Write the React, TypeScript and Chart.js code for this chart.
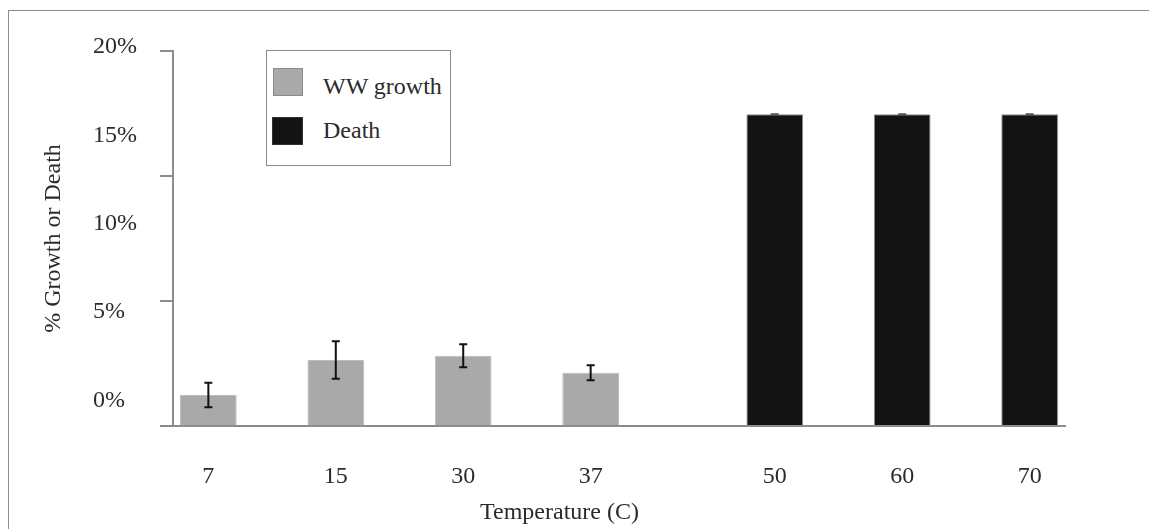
import React, { useEffect, useRef } from 'react';
import { Chart, registerables } from 'chart.js';

Chart.register(...registerables);

// ---------- data ----------
const temperatures = ['7', '15', '30', '37', '50', '60', '70'];
const growthLabel = 'WW growth';
const deathLabel = 'Death';
const growthValues = [1.24, 2.64, 2.81, 2.13, null, null, null];
const growthErrors = [0.49, 0.75, 0.46, 0.3, null, null, null];
const deathValues = [null, null, null, null, 12.47, 12.47, 12.47];
const deathErrors = [null, null, null, null, 0, 0, 0];
const percentTickValues = [0, 5, 10, 15, 20];
const percentTickLabels = ['0%', '5%', '10%', '15%', '20%'];
const yTitle = '% Growth or Death';
const xTitle = 'Temperature (C)';

// ---------- style ----------
const growthColor = '#a9a9a9';
const growthBorder = '#bdbdbd';
const deathColor = '#131313';
const deathBorder = '#8f8f8f';
const axisColor = '#8c8c8c';
const textColor = '#2b2b2b';
const FONT_FAMILY = "'Liberation Serif', 'Times New Roman', serif";
const font = { family: FONT_FAMILY, size: 24, weight: 'normal' as const };
const CAT_PCT = 0.89;

const errorBarPlugin = {
  id: 'errorBars',
  afterDatasetsDraw(chart: any) {
    const ctx = chart.ctx;
    const yScale = chart.scales.y;
    chart.data.datasets.forEach((ds: any, di: number) => {
      const errs = ds.errors;
      if (!errs) return;
      const meta = chart.getDatasetMeta(di);
      meta.data.forEach((bar: any, i: number) => {
        const v = ds.data[i];
        const e = errs[i];
        if (v == null || e == null) return;
        const x = bar.x;
        const yTop = yScale.getPixelForValue(v + e);
        const yBot = yScale.getPixelForValue(v - e);
        ctx.save();
        ctx.strokeStyle = e === 0 ? '#555555' : '#111111';
        ctx.lineWidth = 2;
        ctx.beginPath();
        ctx.moveTo(x, yTop);
        ctx.lineTo(x, yBot);
        ctx.moveTo(x - 4, yTop);
        ctx.lineTo(x + 4, yTop);
        ctx.moveTo(x - 4, yBot);
        ctx.lineTo(x + 4, yBot);
        ctx.stroke();
        ctx.restore();
      });
    });
  },
};

const legendItems = [
  { label: growthLabel, fill: growthColor, border: '#8a8a8a' },
  { label: deathLabel, fill: deathColor, border: '#333333' },
];

export default function App() {
  const canvasRef = useRef<HTMLCanvasElement | null>(null);

  useEffect(() => {
    if (!canvasRef.current) return;
    Chart.defaults.font.family = FONT_FAMILY;
    const chart = new Chart(canvasRef.current, {
      type: 'bar',
      data: {
        labels: temperatures,
        datasets: [
          {
            label: growthLabel,
            data: growthValues,
            errors: growthErrors,
            backgroundColor: growthColor,
            borderColor: growthBorder,
            borderWidth: 1,
            xAxisID: 'x',
            yAxisID: 'y',
            categoryPercentage: CAT_PCT,
            barPercentage: 1,
          } as any,
          {
            label: deathLabel,
            data: deathValues,
            errors: deathErrors,
            backgroundColor: deathColor,
            borderColor: deathBorder,
            borderWidth: 1,
            xAxisID: 'x',
            yAxisID: 'y',
            categoryPercentage: CAT_PCT,
            barPercentage: 1,
          } as any,
        ],
      },
      options: {
        responsive: false,
        animation: false,
        devicePixelRatio: 1,
        layout: { padding: { left: 0, right: 39, top: 40, bottom: 0 } },
        plugins: {
          legend: { display: false },
          tooltip: { enabled: false },
          title: {
            display: true,
            position: 'bottom',
            text: xTitle,
            font,
            color: textColor,
            padding: { top: 0, bottom: 1.6 },
          },
        },
        scales: {
          x: {
            type: 'category',
            position: 'bottom',
            weight: 1,
            offset: true,
            grid: { display: false, drawTicks: false },
            ticks: { display: false },
            border: { display: true, color: axisColor, width: 2 },
            afterFit: (s: any) => { s.height = 0; },
          },
          xl: {
            type: 'linear',
            position: 'bottom',
            weight: 2,
            offset: false,
            min: -0.5,
            max: temperatures.length - 0.5,
            grid: { display: false, drawTicks: false, offset: false },
            border: { display: false },
            ticks: {
              autoSkip: false,
              maxRotation: 0,
              padding: 36,
              font,
              color: textColor,
              callback: (_v: any, i: number) => temperatures[i],
            },
            afterBuildTicks: (s: any) => {
              s.ticks = temperatures.map((_t, i) => ({
                value: i + (growthValues[i] != null ? -CAT_PCT / 4 : CAT_PCT / 4),
              }));
            },
            afterFit: (s: any) => { s.height = 72.6; },
          },
          y: {
            type: 'linear',
            position: 'left',
            weight: 10,
            min: 0,
            max: 15,
            ticks: { display: false, stepSize: 5 },
            grid: {
              display: true,
              drawOnChartArea: false,
              drawTicks: true,
              tickLength: 13,
              color: axisColor,
              lineWidth: 2,
            },
            border: { display: true, color: axisColor, width: 2 },
            afterFit: (s: any) => { s.width = 13; },
          },
          yl: {
            type: 'linear',
            position: 'left',
            weight: 20,
            min: -1.4427,
            max: 19.774,
            grid: { display: false, drawTicks: false },
            border: { display: false },
            ticks: {
              autoSkip: false,
              crossAlign: 'far',
              font,
              color: textColor,
              callback: (_v: any, i: number) => percentTickLabels[i],
            },
            afterBuildTicks: (s: any) => {
              s.ticks = percentTickValues.map((v) => ({ value: v }));
            },
            afterFit: (s: any) => { s.width = 67; },
          },
          yt: {
            type: 'linear',
            position: 'left',
            weight: 30,
            grid: { display: false, drawTicks: false },
            border: { display: false },
            ticks: { display: false },
            title: {
              display: true,
              text: yTitle,
              font,
              color: textColor,
              padding: { top: 30, bottom: 0 },
            },
            afterFit: (s: any) => { s.width = 84; },
          },
          yr: {
            type: 'linear',
            position: 'right',
            grid: { display: false, drawTicks: false },
            border: { display: false },
            ticks: { display: false },
            afterFit: (s: any) => { s.width = 45; },
          },
        } as any,
      },
      plugins: [errorBarPlugin],
    } as any);
    return () => chart.destroy();
  }, []);

  return (
    <div
      style={{
        position: 'fixed',
        left: 8,
        top: 10,
        width: 1141,
        height: 519,
        boxSizing: 'border-box',
        borderTop: '1px solid #8c8c8c',
        borderLeft: '1px solid #8c8c8c',
        background: '#ffffff',
      }}
    >
      <canvas
        ref={canvasRef}
        width={1140}
        height={518}
        style={{ position: 'absolute', left: 0, top: 0, display: 'block', width: 1140, height: 518 }}
      />
      <div
        style={{
          position: 'absolute',
          left: 257,
          top: 39,
          width: 185,
          height: 116,
          boxSizing: 'border-box',
          border: '1px solid #8a8a8a',
          background: '#ffffff',
          fontFamily: FONT_FAMILY,
          fontSize: 24,
          color: textColor,
        }}
      >
        {legendItems.map((item, i) => (
          <React.Fragment key={item.label}>
            <div
              style={{
                position: 'absolute',
                left: i === 0 ? 6 : 5,
                top: i === 0 ? 17 : 66,
                width: i === 0 ? 30 : 31,
                height: 28,
                boxSizing: 'border-box',
                background: item.fill,
                border: `1px solid ${item.border}`,
              }}
            />
            <div
              style={{
                position: 'absolute',
                left: 56,
                top: i === 0 ? 21 : 65,
                lineHeight: '28px',
                whiteSpace: 'nowrap',
              }}
            >
              {item.label}
            </div>
          </React.Fragment>
        ))}
      </div>
    </div>
  );
}
